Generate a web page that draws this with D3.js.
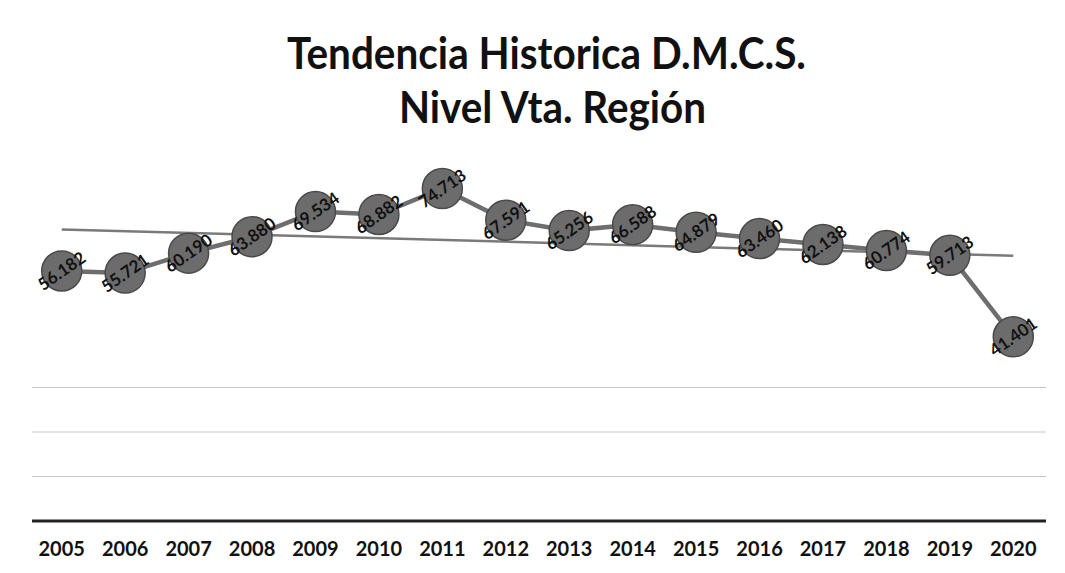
<!DOCTYPE html>
<html>
<head>
<meta charset="utf-8">
<script src="https://cdn.jsdelivr.net/npm/d3@7"></script>
<style>
  html, body { margin: 0; padding: 0; background: #fff; }
  svg { display: block; }
</style>
</head>
<body>
<svg id="chart" width="1065" height="573"></svg>
<script>
const years = ["2005","2006","2007","2008","2009","2010","2011","2012","2013","2014","2015","2016","2017","2018","2019","2020"];
const ventas = [56182, 55721, 60190, 63880, 69534, 68882, 74713, 67591, 65256, 66588, 64879, 63460, 62138, 60774, 59713, 41401];
const gridTicks = [10000, 20000, 30000];
const titleLines = ["Tendencia Historica D.M.C.S.", "Nivel Vta. Región"];

const svg = d3.select("#chart");
const font = "Lato, 'Open Sans', 'DejaVu Sans', sans-serif";
const narrow = "'Liberation Sans Narrow', Lato, 'DejaVu Sans Condensed', sans-serif";

const x = d3.scaleBand().domain(years).range([30, 1045]);
const y = d3.scaleLinear().domain([0, 80000]).range([521, 165]);
const cx = d => x(d) + x.bandwidth() / 2;

const loc = d3.formatLocale({decimal: ",", thousands: ".", grouping: [3], currency: ["$", ""]});
const fmt = loc.format(",d");

// title
const titleW = [519, 307];
svg.selectAll("text.title").data(titleLines).join("text")
  .attr("class", "title")
  .attr("x", (d, i) => i === 0 ? 287 : 399).attr("y", (d, i) => 69 + i * 54)
  .attr("textLength", (d, i) => titleW[i])
  .attr("lengthAdjust", "spacingAndGlyphs")
  .attr("font-family", font).attr("font-weight", 700)
  .attr("font-size", 43).attr("fill", "#111")
  .text(d => d);

// gridlines
svg.append("g").selectAll("line").data(gridTicks).join("line")
  .attr("x1", 32).attr("x2", 1046)
  .attr("y1", d => y(d)).attr("y2", d => y(d))
  .attr("stroke", "#c8c8c8").attr("stroke-width", 1.2);

// x axis
const xAxis = d3.axisBottom(x).tickSize(0).tickPadding(21);
const gx = svg.append("g").attr("transform", `translate(0,${y(0)})`).call(xAxis);
gx.select(".domain").attr("stroke", "#222").attr("stroke-width", 3)
  .attr("d", "M32,0H1046");
gx.selectAll("text").attr("font-family", narrow).attr("font-weight", 700)
  .attr("font-size", 20).attr("fill", "#111");

// trend line (least squares)
const xs = years.map((d, i) => i);
const n = xs.length;
const mx = d3.mean(xs), my = d3.mean(ventas);
const slope = d3.sum(xs, (xi, i) => (xi - mx) * (ventas[i] - my)) / d3.sum(xs, xi => (xi - mx) * (xi - mx));
const icpt = my - slope * mx;
svg.append("line")
  .attr("x1", cx(years[0])).attr("y1", y(icpt))
  .attr("x2", cx(years[n - 1])).attr("y2", y(icpt + slope * (n - 1)))
  .attr("stroke", "#7a7a7a").attr("stroke-width", 2.5);

// series line
const line = d3.line().x((d, i) => cx(years[i])).y(d => y(d));
svg.append("path").datum(ventas)
  .attr("d", line).attr("fill", "none")
  .attr("stroke", "#6e6e6e").attr("stroke-width", 4.5);

// markers
svg.append("g").selectAll("circle").data(ventas).join("circle")
  .attr("cx", (d, i) => cx(years[i])).attr("cy", d => y(d))
  .attr("r", 20)
  .attr("fill", "#6c6c6c").attr("stroke", "#4a4a4a").attr("stroke-width", 1.5);

// labels
svg.append("g").selectAll("text").data(ventas).join("text")
  .attr("transform", (d, i) => `translate(${cx(years[i])},${y(d)}) rotate(-35)`)
  .attr("text-anchor", "middle").attr("dy", "0.35em")
  .attr("font-family", narrow).attr("font-weight", 700)
  .attr("font-size", 17).attr("fill", "#111")
  .text(d => fmt(d));
</script>
</body>
</html>
